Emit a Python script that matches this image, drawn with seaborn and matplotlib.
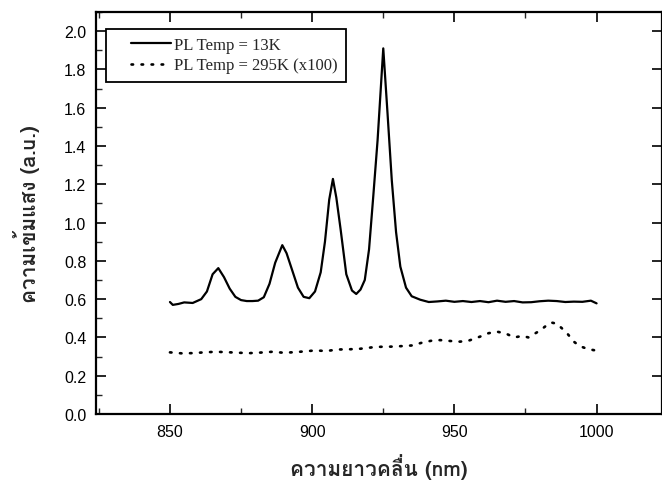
import numpy as np
import pandas as pd
import matplotlib
matplotlib.use("Agg")
import matplotlib.pyplot as plt
import matplotlib.font_manager as fm
from matplotlib.legend_handler import HandlerLine2D
from matplotlib.ticker import MultipleLocator
import seaborn as sns

# ---------------- data ----------------
wl_13k = [850, 851, 853, 855, 858, 861, 863, 865, 867, 869, 871, 873, 875, 877,
          879, 881, 883, 885, 887, 889.5, 891, 893, 895, 897, 899, 901, 903,
          904.5, 906, 907.3, 908.5, 910, 912, 914, 915.5, 917, 918.5, 920,
          921.5, 923, 925, 926.5, 928, 929.5, 931, 933, 935, 938, 941, 944,
          947, 950, 953, 956, 959, 962, 965, 968, 971, 974, 977, 980, 983,
          986, 989, 992, 995, 998, 1000]
pl_13k = [0.585, 0.570, 0.575, 0.583, 0.580, 0.600, 0.640, 0.730, 0.762, 0.715,
          0.655, 0.612, 0.595, 0.590, 0.590, 0.592, 0.610, 0.680, 0.790, 0.882,
          0.840, 0.750, 0.660, 0.612, 0.605, 0.640, 0.740, 0.900, 1.120, 1.228,
          1.130, 0.965, 0.730, 0.645, 0.627, 0.650, 0.700, 0.860, 1.140, 1.430,
          1.910, 1.570, 1.220, 0.950, 0.770, 0.660, 0.615, 0.597, 0.585, 0.588,
          0.592, 0.586, 0.590, 0.585, 0.590, 0.584, 0.592, 0.586, 0.590, 0.583,
          0.584, 0.589, 0.592, 0.590, 0.585, 0.587, 0.586, 0.592, 0.578]

wl_295k = [850, 854, 858, 862, 866, 870, 874, 878, 882, 886, 890, 894, 898, 901,
           905, 909, 913, 917, 921, 924, 928, 932, 935, 939, 942, 945, 948, 952,
           955, 959, 962, 965, 968, 971, 974, 976, 980, 982, 984, 986, 988, 990,
           992, 994, 997, 1000]
pl_295k = [0.322, 0.317, 0.318, 0.322, 0.325, 0.323, 0.320, 0.318, 0.321, 0.325,
           0.320, 0.323, 0.328, 0.332, 0.329, 0.337, 0.338, 0.341, 0.348, 0.351,
           0.352, 0.355, 0.358, 0.374, 0.383, 0.386, 0.382, 0.378, 0.383, 0.404,
           0.422, 0.430, 0.421, 0.400, 0.408, 0.400, 0.435, 0.458, 0.478, 0.472,
           0.445, 0.415, 0.378, 0.355, 0.339, 0.331]

label_13k = "PL Temp = 13K"
label_295k = "PL Temp = 295K (x100)"
x_label = "ความยาวคลื่น (nm)"
y_label = "ความเข้มแสง (a.u.)"
x_ticks = [850, 900, 950, 1000]
y_ticks = [0.0, 0.2, 0.4, 0.6, 0.8, 1.0, 1.2, 1.4, 1.6, 1.8, 2.0]


# ---------------- find a font with Thai glyphs ----------------
def thai_family():
    try:
        from fontTools.ttLib import TTFont
    except Exception:
        return None
    found = []
    for f in fm.fontManager.ttflist:
        try:
            if f.fname.lower().endswith((".ttc", ".otc")):
                tt = TTFont(f.fname, fontNumber=0, lazy=True)
            else:
                tt = TTFont(f.fname, lazy=True)
            cmap = tt.getBestCmap()
        except Exception:
            continue
        if cmap and 0x0E04 in cmap and 0x0E27 in cmap and 0x0E49 in cmap:
            found.append(f.name)
    if not found:
        return None
    pref = ["Loma", "Garuda", "Norasi", "Noto Serif Thai", "Noto Sans Thai Looped",
            "Noto Sans Thai", "Tlwg Typo", "Kinnari", "Sarabun"]
    for p in pref:
        if p in found:
            return p
    return found[0]


thai = thai_family()
thai_fams = ([thai] if thai else []) + ["Liberation Serif", "DejaVu Sans"]

# ---------------- figure ----------------
sns.set_theme(style="ticks")
plt.rcParams["font.family"] = ["Liberation Sans", "DejaVu Sans"]

fig = plt.figure(figsize=(6.62, 4.85), dpi=100)
ax = fig.add_axes([96 / 662, 70 / 485, 566 / 662, 402 / 485])

df13 = pd.DataFrame({"wl": wl_13k, "pl": pl_13k})
df295 = pd.DataFrame({"wl": wl_295k, "pl": pl_295k})

sns.lineplot(data=df13, x="wl", y="pl", ax=ax, color="black", linewidth=1.6,
             label=label_13k)
sns.lineplot(data=df295, x="wl", y="pl", ax=ax, color="black", linewidth=1.9,
             linestyle=(0, (0.6, 3.2)), dash_capstyle="round", label=label_295k)

ax.set_xlim(824, 1023)
ax.set_ylim(0, 2.1)
ax.set_xticks(x_ticks)
ax.set_yticks(y_ticks)
ax.set_yticklabels([f"{v:.1f}" for v in y_ticks])
ax.xaxis.set_minor_locator(MultipleLocator(25))
ax.yaxis.set_minor_locator(MultipleLocator(0.1))

ax.tick_params(axis="both", which="major", direction="in", length=7, width=1.2,
               labelsize=11.5, colors="black", pad=7,
               top=True, right=True)
ax.tick_params(axis="both", which="minor", direction="in", length=4, width=1.0,
               top=True, right=True)
ax.tick_params(axis="y", which="minor", right=False)
for s in ax.spines.values():
    s.set_linewidth(1.6)
    s.set_color("black")
    s.set_visible(True)

ax.set_xlabel(x_label, fontsize=15, fontweight="bold", family=thai_fams,
              labelpad=10)
ax.set_ylabel(y_label, fontsize=15, fontweight="bold", family=thai_fams,
              labelpad=17)


class PadLineHandler(HandlerLine2D):
    def get_xdata(self, legend, xdescent, ydescent, width, height, fontsize):
        xd, xm = super().get_xdata(legend, xdescent, ydescent, width, height,
                                   fontsize)
        lead = 0.30 * width
        xd = np.array([-xdescent + lead, -xdescent + width])
        return xd, xm


handles, labels = ax.get_legend_handles_labels()
leg = ax.legend(handles, labels, loc="upper left",
                bbox_to_anchor=(10 / 566, 385 / 402), borderaxespad=0,
                frameon=True, fancybox=False, edgecolor="black",
                prop={"family": "Liberation Serif", "size": 12},
                handlelength=3.4, handletextpad=0.2, borderpad=0.5,
                labelspacing=0.25,
                handler_map={h: PadLineHandler() for h in handles})
leg.get_frame().set_linewidth(1.3)
leg.get_frame().set_alpha(1)

fig.savefig("out.png", dpi=100)
